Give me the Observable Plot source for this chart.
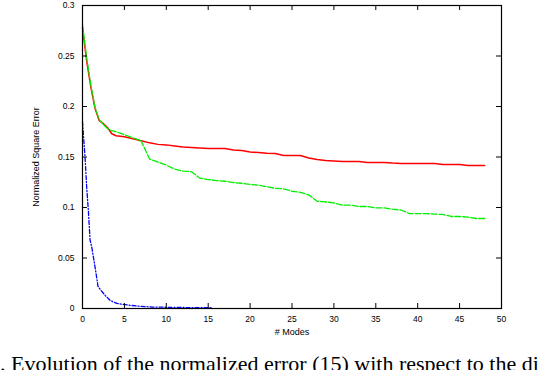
<!DOCTYPE html>
<html><head><meta charset="utf-8">
<script src="https://cdn.jsdelivr.net/npm/d3@7"></script>
<script src="https://cdn.jsdelivr.net/npm/@observablehq/plot@0.6"></script>
<style>
html,body{margin:0;padding:0;background:#fff;}
body{width:538px;height:370px;overflow:hidden;}
#caption{font-family:"Liberation Serif","Times New Roman",serif;font-size:22px;white-space:nowrap;overflow:hidden;width:538px;padding-left:0px;line-height:24px;padding-top:12px;color:#000;box-sizing:border-box;}
</style></head><body>
<div id="chart"></div>
<div id="caption">. Evolution of the normalized error (15) with respect to the different number of modes</div>
<script>
const redX = [0,0.5,1,1.5,2,2.5,3,3.5,4,5,6,7,8,9,10,11,12,13,14,15,16,17,18,19,20,21,22,23,24,25,26,27,28,29,30,31,32,33,34,35,36,37,38,39,40,41,42,43,44,45,46,47,48];
const redY = [0.278,0.245,0.219,0.198,0.186,0.183,0.179,0.173,0.171,0.170,0.168,0.166,0.164,0.1625,0.162,0.161,0.160,0.1595,0.159,0.1585,0.1584,0.1584,0.157,0.1564,0.155,0.1544,0.1538,0.1535,0.1515,0.1515,0.1515,0.149,0.1475,0.1465,0.146,0.1455,0.1455,0.1455,0.1446,0.1446,0.1446,0.144,0.1436,0.1436,0.1436,0.1436,0.1436,0.1426,0.1426,0.1426,0.1416,0.1416,0.1416];
const greenX = [0,0.5,1,1.5,2,2.5,3,3.5,4,5,6,7,7.5,8,9,10,11,12,13,14,15,16,17,18,19,20,21,22,23,24,25,26,27,28,29,30,31,32,33,34,35,36,37,38,39,40,41,42,43,44,45,46,47,48];
const greenY = [0.281,0.248,0.221,0.199,0.187,0.182,0.178,0.176,0.175,0.172,0.169,0.166,0.157,0.148,0.145,0.142,0.138,0.136,0.1355,0.129,0.1277,0.1267,0.126,0.1247,0.124,0.1228,0.1222,0.1205,0.119,0.1185,0.1161,0.115,0.1125,0.1062,0.1056,0.1045,0.1023,0.1023,0.101,0.101,0.0996,0.0996,0.0983,0.0975,0.094,0.094,0.094,0.0935,0.0931,0.0911,0.0911,0.0904,0.0891,0.0891];
const blueX = [0,0.1,0.3,0.5,0.7,0.9,1.1,1.4,1.65,1.85,2.2,2.7,3.3,4.1,5.5,6.7,8.2,10,12,14,15.5];
const blueY = [0.185,0.173,0.150,0.120,0.097,0.068,0.061,0.046,0.033,0.022,0.018,0.013,0.008,0.005,0.0033,0.0023,0.0015,0.0012,0.001,0.0008,0.0008];
const xTicks = [0,5,10,15,20,25,30,35,40,45,50];
const xTickLabels = ["0","5","10","15","20","25","30","35","40","45","50"];
const yTicks = [0,0.05,0.1,0.15,0.2,0.25,0.3];
const yTickLabels = ["0","0.05","0.1","0.15","0.2","0.25","0.3"];

const W = 538, H = 340, mL = 82, mR = 37, mT = 5, mB = 32;
const fW = W - mL - mR, fH = H - mT - mB, tl = 5;
const pts = (xs, ys) => xs.map((x, i) => ({x, y: ys[i]}));

const chart = Plot.plot({
  width: W, height: H,
  marginLeft: mL, marginRight: mR, marginTop: mT, marginBottom: mB,
  style: {fontFamily: "'Liberation Sans', Arial, sans-serif", fontSize: "8.5px", color: "#000", background: "#fff"},
  x: {domain: [0, 50]},
  y: {domain: [0, 0.3]},
  marks: [
    Plot.line(pts(redX, redY), {x: "x", y: "y", stroke: "#ff0000", strokeWidth: 1.5}),
    Plot.line(pts(greenX, greenY), {x: "x", y: "y", stroke: "#00f000", strokeWidth: 1.3, strokeDasharray: "6,2"}),
    Plot.line(pts(blueX, blueY), {x: "x", y: "y", stroke: "#0000ff", strokeWidth: 1.3, strokeDasharray: "4,2,1,2"}),
    Plot.frame({stroke: "#000", strokeWidth: 1.2}),
    Plot.tickX(xTicks, {x: d => d, insetTop: fH - tl, stroke: "#000"}),
    Plot.tickX(xTicks, {x: d => d, insetBottom: fH - tl, stroke: "#000"}),
    Plot.tickY(yTicks, {y: d => d, insetRight: fW - tl, stroke: "#000"}),
    Plot.tickY(yTicks, {y: d => d, insetLeft: fW - tl, stroke: "#000"}),
    Plot.axisX({ticks: xTicks, tickSize: 0, tickPadding: 7, tickFormat: d => xTickLabels[xTicks.indexOf(d)],
      label: null}),
    Plot.axisY({ticks: yTicks, tickSize: 0, tickPadding: 8, tickFormat: d => yTickLabels[yTicks.indexOf(d)],
      label: null}),
    Plot.axisX({ticks: [], tickSize: 0, fontSize: 9,
      label: "# Modes", labelAnchor: "center", labelOffset: 26, labelArrow: "none"}),
    Plot.axisY({ticks: [], tickSize: 0, fontSize: 9,
      label: "Normalized Square Error", labelAnchor: "center", labelOffset: 50, labelArrow: "none"})
  ]
});
document.getElementById("chart").appendChild(chart);
</script>
</body></html>
